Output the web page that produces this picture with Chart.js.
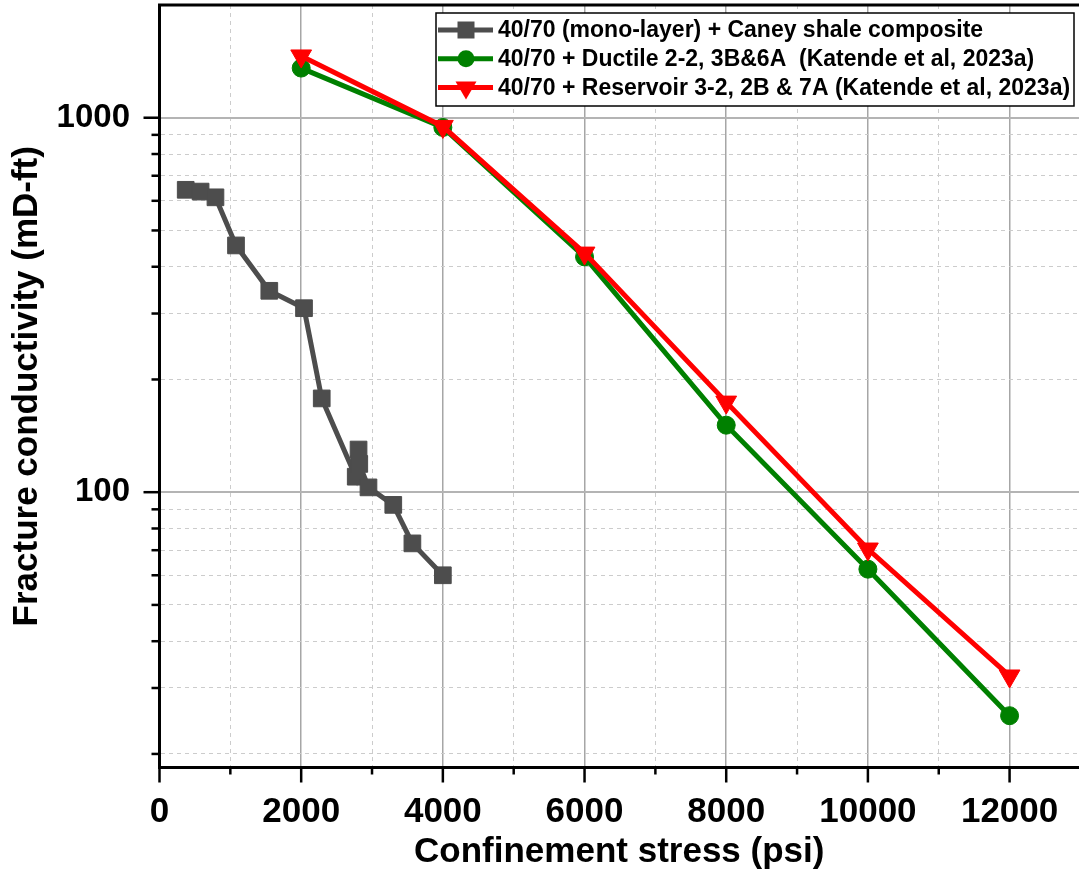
<!DOCTYPE html>
<html>
<head>
<meta charset="utf-8">
<script src="https://cdn.jsdelivr.net/npm/chart.js@4.4.0/dist/chart.umd.min.js"></script>
<style>
  html, body { margin: 0; padding: 0; background: #fff; }
  canvas { display: block; }
</style>
</head>
<body>
<canvas id="chart" width="1079" height="871"></canvas>
<script>
// series names
const seriesLabels = [
  '40/70 (mono-layer) + Caney shale composite',
  '40/70 + Ductile 2-2, 3B&6A  (Katende et al, 2023a)',
  '40/70 + Reservoir 3-2, 2B & 7A (Katende et al, 2023a)'
];
const seriesColors = ['#4d4d4d', '#008000', '#ff0000'];

// mono-layer test
const monoStress = [370, 580, 790, 1080, 1550, 2040, 2290, 2770, 2810, 2820, 2950, 3300, 3570, 4000];
const monoCond   = [642, 635, 613, 456, 345, 310, 178, 110, 130, 119, 103, 92.5, 73, 60];

// Katende et al data
const katendeStress = [2000, 4000, 6000, 8000, 10000, 12000];
const ductileCond   = [1357, 942, 425, 151, 62.3, 25.3];
const reservoirCond = [1462, 948, 435, 174, 70.5, 32.3];

// axes
const xTickValues  = [0, 1000, 2000, 3000, 4000, 5000, 6000, 7000, 8000, 9000, 10000, 11000, 12000];
const xLabelValues = [0, 2000, 4000, 6000, 8000, 10000, 12000];
const yTickValues  = [20, 30, 40, 50, 60, 70, 80, 90, 100, 200, 300, 400, 500, 600, 700, 800, 900, 1000];
const yLabelValues = [100, 1000];

const FONT = 'Liberation Sans, Arial, Helvetica, sans-serif';

function pts(xs, ys) {
  return xs.map((x, i) => ({ x: x, y: ys[i] }));
}

function isMajorX(v) { return xLabelValues.includes(v); }
function isMajorY(v) { return yLabelValues.includes(v); }

const markers = [
  { style: 'rect', radius: 11.8, rotation: 0 },
  { style: 'circle', radius: 9, rotation: 0 },
  { style: 'triangle', radius: 12, rotation: 180 }
];

function drawMarker(ctx, kind, x, y, color) {
  ctx.fillStyle = color;
  ctx.beginPath();
  if (kind === 'rect') {
    ctx.rect(x - 8.5, y - 8.5, 17, 17);
  } else if (kind === 'circle') {
    ctx.arc(x, y, 8.5, 0, Math.PI * 2);
  } else {
    ctx.moveTo(x - 10.5, y - 6);
    ctx.lineTo(x + 10.5, y - 6);
    ctx.lineTo(x, y + 12);
    ctx.closePath();
  }
  ctx.fill();
}

const framePlugin = {
  id: 'frame',
  afterDraw(chart) {
    const ctx = chart.ctx;
    const area = chart.chartArea;
    const xs = chart.scales.x;
    const ys = chart.scales.y;
    ctx.save();
    // top frame line
    ctx.strokeStyle = '#000';
    ctx.lineWidth = 3;
    ctx.beginPath();
    ctx.moveTo(area.left - 1.5, area.top);
    ctx.lineTo(area.right, area.top);
    ctx.stroke();

    // tick marks, long for labelled ticks
    ctx.lineWidth = 2.5;
    xTickValues.forEach(v => {
      const px = xs.getPixelForValue(v);
      const len = isMajorX(v) ? 15 : 7;
      ctx.beginPath();
      ctx.moveTo(px, area.bottom);
      ctx.lineTo(px, area.bottom + len);
      ctx.stroke();
    });
    yTickValues.forEach(v => {
      const py = ys.getPixelForValue(v);
      const len = isMajorY(v) ? 16 : 8;
      ctx.beginPath();
      ctx.moveTo(area.left - len, py);
      ctx.lineTo(area.left, py);
      ctx.stroke();
    });

    // legend box
    const bx = 436, by = 13, bw = 638, bh = 93;
    ctx.fillStyle = '#fff';
    ctx.fillRect(bx, by, bw, bh);
    ctx.strokeStyle = '#000';
    ctx.lineWidth = 1.5;
    ctx.strokeRect(bx, by, bw, bh);
    const rowY = [30, 58.7, 87.4];
    ctx.font = 'bold 23px ' + FONT;
    ctx.textBaseline = 'middle';
    ctx.textAlign = 'left';
    chart.data.datasets.forEach((ds, i) => {
      const y = rowY[i];
      ctx.strokeStyle = ds.borderColor;
      ctx.lineWidth = 5;
      ctx.beginPath();
      ctx.moveTo(bx + 2, y);
      ctx.lineTo(bx + 57, y);
      ctx.stroke();
      drawMarker(ctx, markers[i].style, bx + 30, y, ds.borderColor);
      ctx.fillStyle = '#000';
      ctx.fillText(ds.label, 498, y + 1);
    });
    ctx.restore();
  }
};

const datasets = [
  { data: pts(monoStress, monoCond), order: 3 },
  { data: pts(katendeStress, ductileCond), order: 2 },
  { data: pts(katendeStress, reservoirCond), order: 1 }
].map((d, i) => Object.assign(d, {
  label: seriesLabels[i],
  borderColor: seriesColors[i],
  backgroundColor: seriesColors[i],
  pointBackgroundColor: seriesColors[i],
  pointBorderColor: seriesColors[i],
  pointBorderWidth: 1,
  borderWidth: 5,
  pointStyle: markers[i].style,
  pointRadius: markers[i].radius,
  pointRotation: markers[i].rotation,
  tension: 0,
  clip: false
}));

new Chart(document.getElementById('chart'), {
  type: 'line',
  data: { datasets: datasets },
  options: {
    responsive: false,
    animation: false,
    events: [],
    layout: { autoPadding: false, padding: { top: 5, right: 0, bottom: 0, left: 0 } },
    plugins: { legend: { display: false }, tooltip: { enabled: false } },
    scales: {
      x: {
        type: 'linear',
        min: 0,
        max: 12980,
        afterBuildTicks: s => { s.ticks = xTickValues.map(v => ({ value: v })); },
        afterFit: s => {
          s.height = 103.5;
          s.paddingLeft = 0; s.paddingRight = 0;
        },
        ticks: {
          callback: v => isMajorX(v) ? String(v) : '',
          color: '#000',
          font: { family: FONT, size: 35, weight: 'bold', lineHeight: 1 },
          padding: 27,
          maxRotation: 0,
          autoSkip: false
        },
        grid: {
          drawTicks: false,
          color: c => (c.tick && isMajorX(c.tick.value)) ? '#a6a6a6' : '#cccccc',
          lineWidth: c => (c.tick && isMajorX(c.tick.value)) ? 1.5 : 1
        },
        border: {
          display: true,
          color: '#000',
          width: 3,
          dash: c => (c.tick && !isMajorX(c.tick.value)) ? [4, 4] : []
        },
        title: {
          display: true,
          text: 'Confinement stress (psi)',
          color: '#000',
          font: { family: FONT, size: 35, weight: 'bold', lineHeight: 1 },
          padding: { top: 0, bottom: 1.5 }
        }
      },
      y: {
        type: 'logarithmic',
        min: 18.4,
        max: 2000,
        afterBuildTicks: s => { s.ticks = yTickValues.map(v => ({ value: v })); },
        afterFit: s => {
          s.width = 159.5;
          s.paddingTop = 0; s.paddingBottom = 0;
        },
        ticks: {
          callback: v => isMajorY(v) ? String(v) : '',
          color: '#000',
          font: { family: FONT, size: 33, weight: 'bold', lineHeight: 1 },
          padding: 29.5,
          autoSkip: false
        },
        grid: {
          drawTicks: false,
          color: c => (c.tick && isMajorY(c.tick.value)) ? '#b4b4b4' : '#cccccc',
          lineWidth: c => (c.tick && isMajorY(c.tick.value)) ? 2 : 1
        },
        border: {
          display: true,
          color: '#000',
          width: 3,
          dash: c => (c.tick && !isMajorY(c.tick.value)) ? [4, 4] : []
        },
        title: {
          display: true,
          text: 'Fracture conductivity (mD-ft)',
          color: '#000',
          font: { family: FONT, size: 35, weight: 'bold', lineHeight: 1 },
          padding: { top: 10, bottom: 0 }
        }
      }
    }
  },
  plugins: [framePlugin]
});
</script>
</body>
</html>
